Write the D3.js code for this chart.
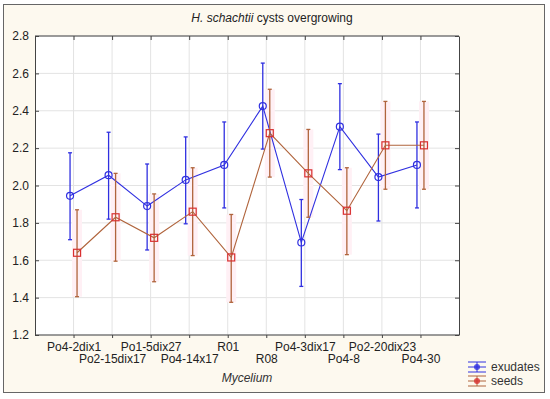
<!DOCTYPE html>
<html><head><meta charset="utf-8">
<script src="https://cdn.jsdelivr.net/npm/d3@7"></script>
<style>body{margin:0;background:#fff;}svg{display:block;font-family:"Liberation Sans",Arial,sans-serif;}</style>
</head><body>
<script>
const categories = ["Po4-2dix1","Po2-15dix17","Po1-5dix27","Po4-14x17","R01","R08","Po4-3dix17","Po4-8","Po2-20dix23","Po4-30"];
const exudatesMean = [1.945,2.055,1.89,2.03,2.11,2.425,1.695,2.315,2.045,2.11];
const exudatesLow  = [1.71,1.82,1.655,1.795,1.88,2.195,1.46,2.085,1.81,1.88];
const exudatesHigh = [2.175,2.285,2.115,2.26,2.34,2.655,1.925,2.545,2.275,2.34];
const seedsMean = [1.64,1.83,1.72,1.86,1.615,2.28,2.065,1.865,2.215,2.215];
const seedsLow  = [1.405,1.595,1.485,1.625,1.375,2.045,1.83,1.63,1.98,1.98];
const seedsHigh = [1.87,2.065,1.955,2.095,1.845,2.515,2.30,2.095,2.45,2.45];
const yTicks = [1.2,1.4,1.6,1.8,2.0,2.2,2.4,2.6,2.8];

const W=550,H=399;
const svg=d3.select("body").append("svg").attr("width",W).attr("height",H);
svg.append("rect").attr("x",0).attr("y",0).attr("width",W).attr("height",H).attr("fill","#fff");
svg.append("rect").attr("x",3.5).attr("y",4.5).attr("width",541).attr("height",388).attr("fill","#fdf9ef").attr("stroke","#666").attr("stroke-width",1);

const L=35,R=459,T=36,B=335;
svg.append("rect").attr("x",L).attr("y",T).attr("width",R-L).attr("height",B-T).attr("fill","#fff");
const x=d3.scalePoint().domain(categories).range([L,R]).padding(1);
const y=d3.scaleLinear().domain([1.2,2.8]).range([B,T]);

// grid
svg.append("g").selectAll("line").data(categories).join("line")
 .attr("x1",d=>x(d)).attr("x2",d=>x(d)).attr("y1",T).attr("y2",B).attr("stroke","#e3e3e3");
svg.append("g").selectAll("line").data(yTicks).join("line")
 .attr("x1",L).attr("x2",R).attr("y1",d=>y(d)).attr("y2",d=>y(d)).attr("stroke","#e3e3e3");

// axes
const ax=svg.append("g").attr("transform",`translate(${L},0)`).call(d3.axisLeft(y).tickValues(yTicks).tickFormat(d3.format(".1f")).tickSize(4).tickSizeOuter(0));
ax.select(".domain").attr("stroke","#444");
ax.selectAll(".tick line").attr("x2",4).attr("stroke","#444");
ax.selectAll("text").attr("x",-6).attr("font-size",12).attr("fill","#222").attr("font-family","Liberation Sans, Arial");
const axR=svg.append("g").attr("transform",`translate(${R},0)`).call(d3.axisLeft(y).tickValues(yTicks).tickFormat("").tickSize(4).tickSizeOuter(0));
axR.select(".domain").attr("stroke","#444");axR.selectAll(".tick line").attr("stroke","#444");
const axT=svg.append("g").attr("transform",`translate(0,${T})`).call(d3.axisBottom(x).tickFormat("").tickSize(4).tickSizeOuter(0));
axT.select(".domain").attr("stroke","#444").attr("d",`M${L},0H${R}`);axT.selectAll(".tick line").attr("stroke","#444");
const axB=svg.append("g").attr("transform",`translate(0,${B})`).call(d3.axisBottom(x).tickSize(3).tickSizeOuter(0));
axB.select(".domain").attr("stroke","#444").attr("d",`M${L},0H${R}`);axB.selectAll(".tick line").attr("stroke","#444");
axB.selectAll("text").attr("font-size",12).attr("fill","#222").attr("font-family","Liberation Sans, Arial")
 .attr("dy",null).attr("y",(d,i)=>i%2===0?16:28);

// titles
const title=svg.append("text").attr("x",272).attr("y",22).attr("text-anchor","middle").attr("font-size",12).attr("fill","#222");
title.append("tspan").attr("font-style","italic").text("H. schachtii");
title.append("tspan").text(" cysts overgrowing");
svg.append("text").attr("x",247).attr("y",382).attr("text-anchor","middle").attr("font-size",12).attr("font-style","italic").attr("fill","#333").text("Mycelium");

const blue="#3030e0", brown="#b0643c", red="#d83030";
const off=3.5;
const ex=categories.map((c,i)=>({c,m:exudatesMean[i],lo:exudatesLow[i],hi:exudatesHigh[i],x:x(c)-off}));
const sd=categories.map((c,i)=>({c,m:seedsMean[i],lo:seedsLow[i],hi:seedsHigh[i],x:x(c)+off}));

// seeds glow
svg.append("g").selectAll("rect").data(sd).join("rect")
 .attr("x",d=>d.x-5).attr("width",10).attr("y",d=>y(d.hi)).attr("height",d=>y(d.lo)-y(d.hi))
 .attr("fill","#fff0f5");

function drawSeries(data,lineCol,barCol){
 const g=svg.append("g");
 g.append("path").datum(data).attr("fill","none").attr("stroke",lineCol).attr("stroke-width",1.1)
  .attr("d",d3.line().x(d=>d.x).y(d=>y(d.m)));
 const eb=g.selectAll("g").data(data).join("g");
 eb.append("line").attr("x1",d=>d.x).attr("x2",d=>d.x).attr("y1",d=>y(d.lo)).attr("y2",d=>y(d.hi)).attr("stroke",barCol).attr("stroke-width",1.3);
 eb.append("line").attr("x1",d=>d.x-2).attr("x2",d=>d.x+2).attr("y1",d=>y(d.lo)).attr("y2",d=>y(d.lo)).attr("stroke",barCol).attr("stroke-width",1.3);
 eb.append("line").attr("x1",d=>d.x-2).attr("x2",d=>d.x+2).attr("y1",d=>y(d.hi)).attr("y2",d=>y(d.hi)).attr("stroke",barCol).attr("stroke-width",1.3);
 return g;
}
drawSeries(ex,blue,blue).selectAll("circle").data(ex).join("circle")
 .attr("cx",d=>d.x).attr("cy",d=>y(d.m)).attr("r",3.5).attr("fill","none").attr("stroke",blue).attr("stroke-width",1.2);
drawSeries(sd,brown,brown).selectAll("rect.m").data(sd).join("rect").attr("class","m")
 .attr("x",d=>d.x-3.5).attr("y",d=>y(d.m)-3.5).attr("width",7).attr("height",7).attr("fill","none").attr("stroke",red).attr("stroke-width",1.2);

// legend
const leg=[{n:"exudates",c:blue,mc:blue},{n:"seeds",c:brown,mc:red}];
const lg=svg.append("g").selectAll("g").data(leg).join("g").attr("transform",(d,i)=>`translate(468,${367+i*14})`);
lg.append("line").attr("x1",0).attr("x2",18).attr("y1",-5).attr("y2",-5).attr("stroke",d=>d.c);
lg.append("line").attr("x1",0).attr("x2",18).attr("y1",0).attr("y2",0).attr("stroke",d=>d.c);
lg.append("line").attr("x1",0).attr("x2",18).attr("y1",5).attr("y2",5).attr("stroke",d=>d.c);
lg.append("line").attr("x1",9).attr("x2",9).attr("y1",-5).attr("y2",5).attr("stroke",d=>d.c);
lg.append("circle").attr("cx",9).attr("cy",0).attr("r",3).attr("fill",d=>d.mc).attr("opacity",0.8);
lg.append("text").attr("x",23).attr("y",4).attr("font-size",12).attr("fill","#333").text(d=>d.n);
</script>
</body></html>
